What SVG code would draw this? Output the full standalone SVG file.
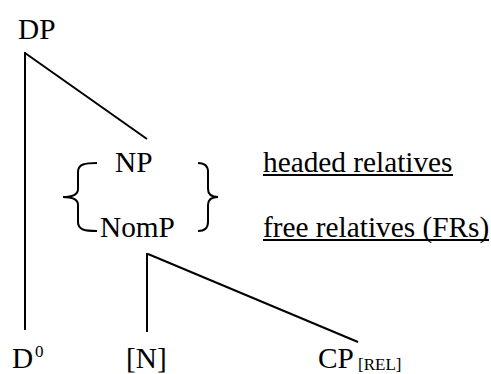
<svg xmlns="http://www.w3.org/2000/svg" width="491" height="374" viewBox="0 0 491 374" font-family="'Liberation Serif', 'DejaVu Serif', serif">
<style>
text{font-family:'Liberation Serif','DejaVu Serif',serif;font-size:29.3px;fill:#000}
.sub{font-size:17px}
.ln{stroke:#000;stroke-width:2;fill:none}
</style>
<rect width="491" height="374" fill="#fff"/>
<g id="connectors">
<path class="ln" d="M25,52 V330"/>
<path class="ln" d="M25,53 L147,139"/>
<path class="ln" d="M147,253 V332"/>
<path class="ln" d="M148,254 L358,342"/>
</g>
<g id="DP"><text x="18" y="39">DP</text></g>
<g id="NP-NomP">
<path class="ln" d="M97,163 C85,163 78,164 78,172 L78,189 C78,195 72,197 63,197 C72,197 78,199 78,205 L78,222 C78,230 85,231 97,231"/>
<path class="ln" d="M198,163 C204,163 208,165 208,172 L208,189 C208,195 212,197 218,197 C212,197 208,199 208,205 L208,222 C208,229 204,231 198,231"/>
<text x="115" y="172">NP</text>
<text x="100" y="237">NomP</text>
</g>
<g id="labels">
<text x="263" y="172">headed relatives</text>
<line class="ln" x1="263" y1="175" x2="453" y2="175"/>
<text x="263" y="237">free relatives (FRs)</text>
<line class="ln" x1="263" y1="240" x2="489" y2="240"/>
</g>
<g id="D0"><text x="12" y="368">D</text><text class="sub" x="35" y="357">0</text></g>
<g id="N"><text x="126" y="368">[N]</text></g>
<g id="CP"><text x="318" y="368">CP</text><text class="sub" x="358" y="370">[REL]</text></g>
</svg>
